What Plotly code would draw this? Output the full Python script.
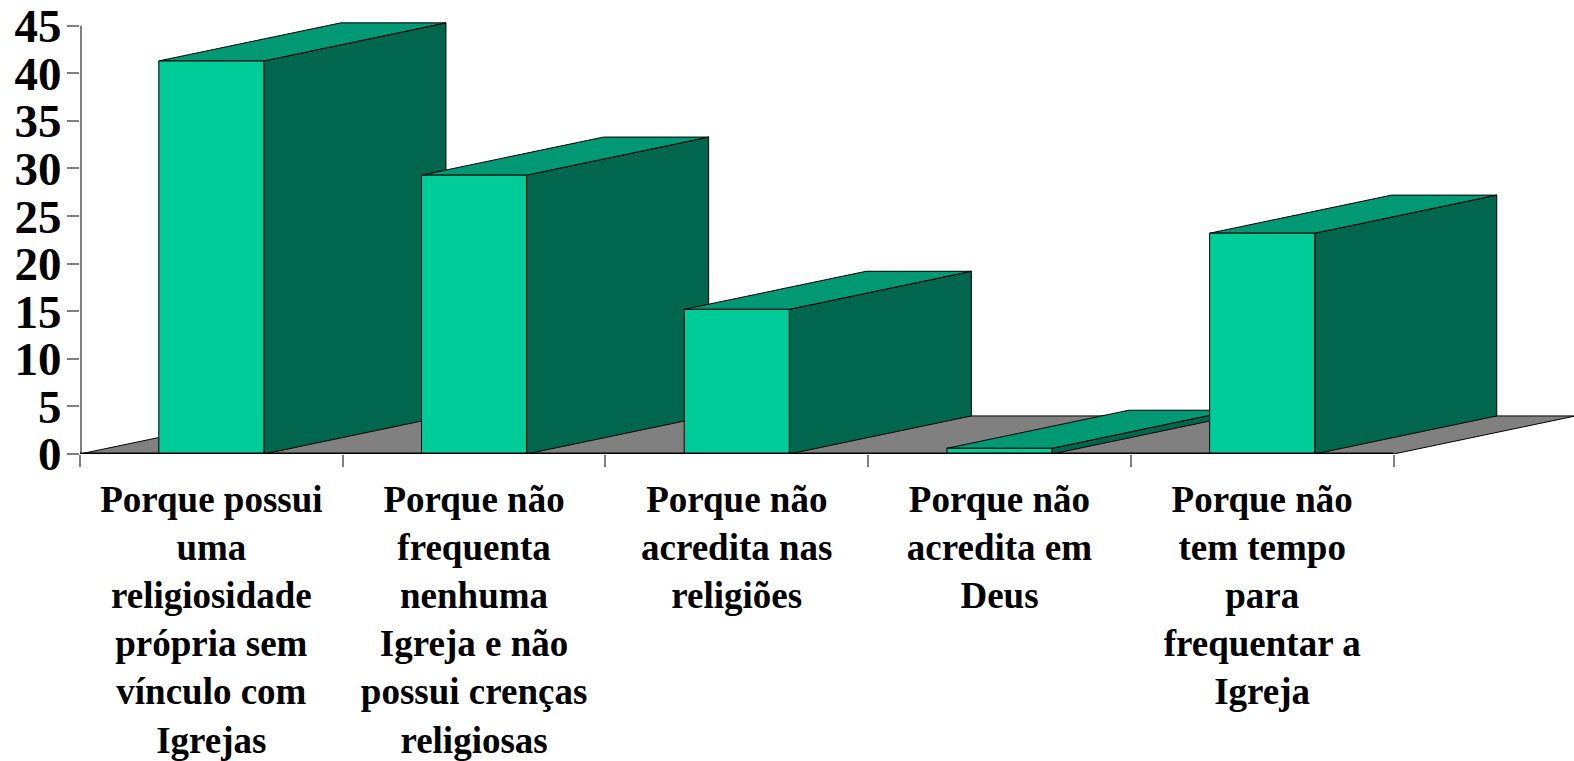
import plotly.graph_objects as go

categories = [
    "Porque possui<br>uma<br>religiosidade<br>própria sem<br>vínculo com<br>Igrejas",
    "Porque não<br>frequenta<br>nenhuma<br>Igreja e não<br>possui crenças<br>religiosas",
    "Porque não<br>acredita nas<br>religiões",
    "Porque não<br>acredita em<br>Deus",
    "Porque não<br>tem tempo<br>para<br>frequentar a<br>Igreja",
]
values = [41.3, 29.3, 15.2, 0.6, 23.2]
y_ticks = [0, 5, 10, 15, 20, 25, 30, 35, 40, 45]

BAR_W = 0.4
DX = 0.693
DY = 4.0
FRONT, SIDE, TOP, FLOOR = "#00CC99", "#00664D", "#009973", "#808080"
n = len(values)
xs = list(range(n))


def poly(x, y, fill, line_color="black", width=1):
    return go.Scatter(x=x, y=y, mode="lines", fill="toself", fillcolor=fill,
                      line=dict(color=line_color, width=width),
                      hoverinfo="skip", showlegend=False)


fig = go.Figure()
# floor
fig.add_trace(poly([-0.5, -0.5 + DX, n - 0.5 + DX, n - 0.5, -0.5],
                   [0, DY, DY, 0, 0], FLOOR))
# bars, left to right (painter's order)
for xc, v in zip(xs, values):
    l, r = xc - BAR_W / 2, xc + BAR_W / 2
    fig.add_trace(poly([r, r + DX, r + DX, r, r], [0, DY, v + DY, v, 0], SIDE))
    fig.add_trace(poly([l, l + DX, r + DX, r, l], [v, v + DY, v + DY, v, v], TOP))
    fig.add_trace(poly([l, r, r, l, l], [0, 0, v, v, 0], FRONT))
# axis lines (half clipped by the plot edge)
fig.add_trace(go.Scatter(x=[-0.5, -0.5], y=[0, 45], mode="lines",
                         line=dict(color="#808080", width=4),
                         hoverinfo="skip", showlegend=False))
fig.add_trace(go.Scatter(x=[-0.5, n - 0.5], y=[0, 0], mode="lines",
                         line=dict(color="black", width=3),
                         hoverinfo="skip", showlegend=False))

fig.update_layout(
    width=1574, height=761, autosize=False,
    margin=dict(l=80, r=0, t=20, b=307, pad=0),
    paper_bgcolor="white", plot_bgcolor="white",
    showlegend=False,
    font=dict(family="Liberation Serif", color="black"),
    xaxis=dict(
        range=[-0.5, 5.187], showgrid=False, zeroline=False, showline=False,
        tickmode="array", tickvals=xs, ticktext=categories, tickangle=0,
        ticks="", ticklabelstandoff=20,
        tickfont=dict(family="Liberation Serif", size=37, color="black", weight="bold"),
        minor=dict(tickmode="array", tickvals=[i - 0.5 for i in range(n + 1)],
                   ticks="outside", ticklen=12, tickwidth=2, tickcolor="#808080",
                   showgrid=False),
    ),
    yaxis=dict(
        range=[0, 45.6], showgrid=False, zeroline=False, showline=False,
        tickmode="array", tickvals=y_ticks, ticktext=[str(t) for t in y_ticks],
        ticks="outside", ticklen=12, tickwidth=2, tickcolor="#808080",
        ticklabelstandoff=-4,
        tickfont=dict(family="Liberation Serif", size=47, color="black", weight="bold"),
    ),
)
fig.write_html("out.html", config=dict(displayModeBar=False),
               post_script="document.body.style.margin='0';document.documentElement.style.overflow='hidden';")
